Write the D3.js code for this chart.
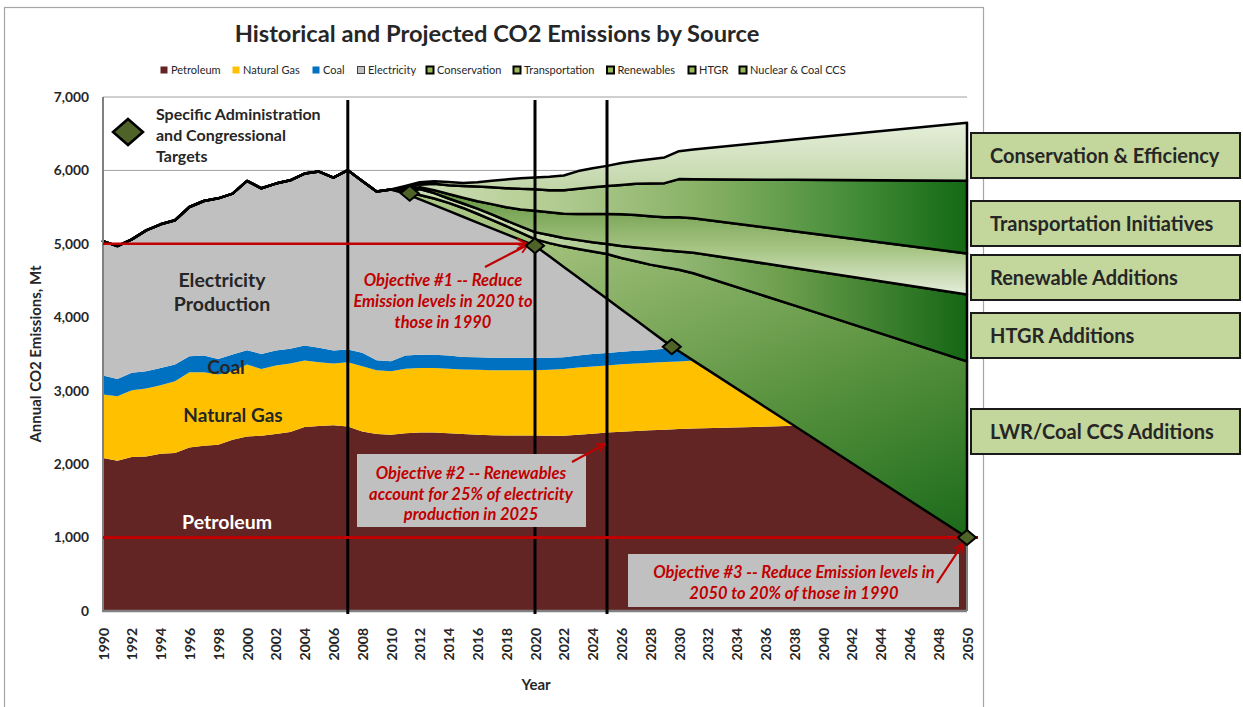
<!DOCTYPE html>
<html>
<head>
<meta charset="utf-8">
<script src="https://cdn.jsdelivr.net/npm/d3@7"></script>
<style>
  body { margin: 0; background: #fff; }
  svg text { font-family: Lato, "Open Sans", sans-serif; fill: #262626; }
</style>
</head>
<body>
<div id="chart"></div>
<script>
// Years (historical every year, then projection points)
var years = [1990,1991,1992,1993,1994,1995,1996,1997,1998,1999,
             2000,2001,2002,2003,2004,2005,2006,2007,2008,2009,
             2010,2011,2012,2013,2014,2015,2016,2017,2018,2019,
             2020,2021,2022,2023,2024,2025,2026,2027,2028,2029,
             2030,2031,2038,2050];

// Mt CO2 by source (stacked, bottom to top)
var petroleum = [2083,2046,2097,2105,2142,2151,2228,2251,2265,2333,
                 2378,2387,2410,2438,2506,2520,2528,2514,2446,2410,
                 2401,2420,2430,2430,2420,2410,2400,2395,2390,2390,
                 2390,2385,2385,2400,2415,2430,2440,2450,2460,2470,
                 2480,2485,2522,1000];
var naturalGas = [864,878,908,924,932,977,1023,1000,955,932,
                  978,910,932,932,905,868,842,874,887,869,
                  864,880,880,880,880,880,885,885,890,890,
                  890,900,910,915,915,915,920,920,920,920,
                  918,925,0,0];
var coal = [259,237,238,236,237,228,219,228,213,227,
            195,204,205,200,204,196,177,173,183,136,
            136,180,180,180,180,170,170,170,170,170,
            170,165,160,165,170,170,170,175,175,180,
            139,0,0,0];
var electricity = [1832,1809,1818,1919,1955,1965,2032,2105,2187,2192,
                   2306,2256,2274,2296,2342,2401,2356,2442,2341,2297,
                   2339,2204,2115,2037,1968,1909,1835,1761,1683,1604,
                   1525,1380,1231,1061,896,737,577,417,262,102,
                   0,0,0,0];
var nuclearCcs = [0,0,0,0,0,0,0,0,0,0,
                  0,0,0,0,0,0,0,0,0,0,
                  0,20,60,90,110,120,120,115,110,100,
                  90,180,280,390,500,610,700,800,900,1010,
                  1110,1190,1640,2400];
var htgr = [0,0,0,0,0,0,0,0,0,0,
            0,0,0,0,0,0,0,0,0,0,
            0,20,80,75,60,60,70,75,75,85,
            95,110,115,120,125,135,165,190,215,230,
            250,280,510,910];
var renewables = [0,0,0,0,0,0,0,0,0,0,
                  0,0,0,0,0,0,0,0,0,0,
                  0,15,25,40,60,80,100,140,180,230,
                  290,310,330,355,385,410,430,440,445,450,
                  465,470,500,560];
var transportation = [0,0,0,0,0,0,0,0,0,0,
                      0,0,0,0,0,0,0,0,0,0,
                      0,25,40,85,120,160,200,230,260,280,
                      295,300,320,345,365,380,400,425,445,465,
                      520,530,700,990];
var conservation = [0,0,0,0,0,0,0,0,0,0,
                    0,0,0,0,0,0,0,0,0,0,
                    0,25,30,35,45,40,60,90,120,145,
                    160,185,200,240,260,275,300,310,330,350,
                    380,405,550,790];

// Administration / congressional targets
var targetYears = [2011.3, 2020, 2029.5, 2050];
var targetValues = [5690, 4975, 3600, 1000];

var milestoneYears = [2007, 2020, 2025];
var yTicks = [0,1000,2000,3000,4000,5000,6000,7000];
var xTicks = [1990,1992,1994,1996,1998,2000,2002,2004,2006,2008,2010,2012,2014,2016,2018,2020,
              2022,2024,2026,2028,2030,2032,2034,2036,2038,2040,2042,2044,2046,2048,2050];

var keys = ["Petroleum","Natural Gas","Coal","Electricity","Nuclear & Coal CCS","HTGR","Renewables","Transportation","Conservation"];
var legendOrder = ["Petroleum","Natural Gas","Coal","Electricity","Conservation","Transportation","Renewables","HTGR","Nuclear & Coal CCS"];
var wedgeLabels = ["Conservation & Efficiency","Transportation Initiatives","Renewable Additions","HTGR Additions","LWR/Coal CCS Additions"];

var table = years.map(function(yr, i) {
  return {
    year: yr,
    "Petroleum": petroleum[i], "Natural Gas": naturalGas[i], "Coal": coal[i], "Electricity": electricity[i],
    "Nuclear & Coal CCS": nuclearCcs[i], "HTGR": htgr[i], "Renewables": renewables[i],
    "Transportation": transportation[i], "Conservation": conservation[i]
  };
});

var W = 1243, H = 707;
var svg = d3.select("#chart").append("svg").attr("width", W).attr("height", H);

var x = d3.scaleLinear().domain([1990, 2050]).range([103, 967]);
var y = d3.scaleLinear().domain([0, 7000]).range([611, 97]);

// chart area border
svg.append("rect").attr("x", 4.5).attr("y", 7.5).attr("width", 979).attr("height", 710)
  .attr("fill", "#fff").attr("stroke", "#a6a6a6").attr("stroke-width", 1.2);

// gradients
var defs = svg.append("defs");
function grad(id, x1, y1, x2, y2, stops) {
  var g = defs.append("linearGradient").attr("id", id)
    .attr("x1", x1).attr("y1", y1).attr("x2", x2).attr("y2", y2);
  stops.forEach(function(s) { g.append("stop").attr("offset", s[0]).attr("stop-color", s[1]); });
}
grad("gCons", 0, 0, 0, 1, [[0, "#e6efdb"], [1, "#a0bf7b"]]);
grad("gTrans", 0, 0, 1, 0, [[0, "#bcd29c"], [0.22, "#e2ebd6"], [0.5, "#b7cf96"], [0.7, "#86b064"], [0.88, "#3f8a35"], [1, "#146814"]]);
grad("gRen", 0, 0, 0, 1, [[0, "#4f8a36"], [0.3, "#76a353"], [0.65, "#a9c686"], [1, "#e6eedb"]]);
grad("gHtgr", 0, 0, 1, 0, [[0, "#dfe9d1"], [0.5, "#c3d8a7"], [0.78, "#6fa04f"], [1, "#156715"]]);
grad("gLwr", 0, 0, 1, 1, [[0, "#bad299"], [0.35, "#a3c17c"], [0.7, "#5a933f"], [1, "#1a6a1a"]]);

var fills = {
  "Petroleum": "#632523", "Natural Gas": "#ffc000", "Coal": "#0070c0", "Electricity": "#c0c0c0",
  "Nuclear & Coal CCS": "url(#gLwr)", "HTGR": "url(#gHtgr)", "Renewables": "url(#gRen)",
  "Transportation": "url(#gTrans)", "Conservation": "url(#gCons)"
};
var wedge = { "Nuclear & Coal CCS": 1, "HTGR": 1, "Renewables": 1, "Transportation": 1, "Conservation": 1 };

// gridlines
svg.append("g").selectAll("line").data(yTicks.filter(function(d) { return d > 0; })).enter().append("line")
  .attr("x1", x(1990)).attr("x2", x(2050))
  .attr("y1", function(d) { return y(d); }).attr("y2", function(d) { return y(d); })
  .attr("stroke", "#a0a0a0").attr("stroke-width", 1);

var series = d3.stack().keys(keys)(table);
var area = d3.area()
  .x(function(d) { return x(d.data.year); })
  .y0(function(d) { return y(d[0]); })
  .y1(function(d) { return y(d[1]); });

svg.append("g").selectAll("path").data(series).enter().append("path")
  .attr("d", area)
  .attr("fill", function(d) { return fills[d.key]; })
  .attr("stroke", function(d) { return wedge[d.key] ? "#000" : "none"; })
  .attr("stroke-width", 2.5)
  .attr("stroke-linejoin", "round");

// total line
var top = series[series.length - 1];
svg.append("path").datum(top)
  .attr("fill", "none").attr("stroke", "#000").attr("stroke-width", 3.5).attr("stroke-linejoin", "round")
  .attr("d", d3.line().x(function(d) { return x(d.data.year); }).y(function(d) { return y(d[1]); }));

// axes frame
svg.append("line").attr("x1", x(1990)).attr("x2", x(1990)).attr("y1", y(7000)).attr("y2", y(0))
  .attr("stroke", "#808080").attr("stroke-width", 2);
svg.append("line").attr("x1", x(1990) - 1).attr("x2", x(2050)).attr("y1", y(0)).attr("y2", y(0))
  .attr("stroke", "#808080").attr("stroke-width", 2.5);
svg.append("line").attr("x1", x(2050)).attr("x2", x(2050)).attr("y1", y(1000)).attr("y2", y(0))
  .attr("stroke", "#808080").attr("stroke-width", 2);

// milestone verticals
svg.append("g").selectAll("line").data(milestoneYears).enter().append("line")
  .attr("x1", function(d) { return x(d); }).attr("x2", function(d) { return x(d); })
  .attr("y1", 100).attr("y2", 614)
  .attr("stroke", "#000").attr("stroke-width", 3);

// red arrow marker
defs.append("marker").attr("id", "arr").attr("viewBox", "0 0 10 10").attr("refX", 9).attr("refY", 5)
  .attr("markerWidth", 5).attr("markerHeight", 5).attr("orient", "auto-start-reverse")
  .attr("markerUnits", "strokeWidth")
  .append("path").attr("d", "M1,1 L9,5 L1,9").attr("fill", "none").attr("stroke", "#c00000").attr("stroke-width", 1.6);

var red = "#c00000";
// objective #1 reference line (1990 level)
svg.append("line").attr("x1", x(1990)).attr("x2", x(targetYears[1]) - 8)
  .attr("y1", y(5000)).attr("y2", y(5000))
  .attr("stroke", red).attr("stroke-width", 2.5).attr("marker-end", "url(#arr)");
// objective #3 level (20% of 1990)
svg.append("line").attr("x1", x(1990)).attr("x2", x(2050) + 11)
  .attr("y1", y(targetValues[3])).attr("y2", y(targetValues[3]))
  .attr("stroke", red).attr("stroke-width", 3);

// annotation boxes
svg.append("rect").attr("x", 357).attr("y", 454).attr("width", 229).attr("height", 73).attr("fill", "#c0c0c0");
svg.append("rect").attr("x", 628).attr("y", 554).attr("width", 331).attr("height", 53).attr("fill", "#c0c0c0");

function arrow(x1, y1, x2, y2) {
  svg.append("line").attr("x1", x1).attr("y1", y1).attr("x2", x2).attr("y2", y2)
    .attr("stroke", red).attr("stroke-width", 2.2).attr("marker-end", "url(#arr)");
}
arrow(485, 267, x(targetYears[1]) - 7, y(targetValues[1]) - 1);
arrow(572, 462, x(2025) - 2, 444);
arrow(937, 583, x(targetYears[3]) - 4, y(targetValues[3]) + 6);

function lines(txt, cx, y0, lh, style) {
  var t = svg.append("text").attr("text-anchor", "middle");
  txt.forEach(function(s, i) {
    t.append("tspan").attr("x", cx).attr("y", y0 + i * lh).text(s);
  });
  for (var k in style) t.style(k, style[k]);
  return t;
}
var objStyle = { "font-size": "16.5px", "font-weight": "bold", "font-style": "italic", "fill": red };
lines(["Objective #1 -- Reduce", "Emission levels in 2020 to", "those in 1990"], 443, 286, 21, objStyle);
lines(["Objective #2 -- Renewables", "account for 25% of electricity", "production in 2025"], 471, 479, 20.5, objStyle);
lines(["Objective #3 -- Reduce Emission levels in", "2050 to 20% of those in 1990"], 794, 577.5, 21.5, objStyle);

// target diamonds
function diamond(w, h) { return "M0," + (-h) + "L" + w + ",0L0," + h + "L" + (-w) + ",0Z"; }
svg.append("g").selectAll("path").data(targetYears).enter().append("path")
  .attr("d", diamond(9, 7.5))
  .attr("transform", function(d, i) { return "translate(" + x(d) + "," + y(targetValues[i]) + ")"; })
  .attr("fill", "#4f6228").attr("stroke", "#000").attr("stroke-width", 2);

// area labels
var lblStyle = { "font-size": "19.5px", "font-weight": "bold" };
lines(["Electricity", "Production"], 222, 287, 24, lblStyle);
lines(["Coal"], 226, 374, 0, { "font-size": "19px", "font-weight": "bold" });
lines(["Natural Gas"], 233, 422, 0, { "font-size": "19px", "font-weight": "bold" });
lines(["Petroleum"], 227, 529, 0, lblStyle).style("fill", "#fff");

// in-plot legend for targets
svg.append("path").attr("d", diamond(15, 13)).attr("transform", "translate(128,132)")
  .attr("fill", "#4f6228").attr("stroke", "#000").attr("stroke-width", 2.5);
var tl = svg.append("text").style("font-size", "16px").style("font-weight", "bold");
["Specific Administration", "and Congressional", "Targets"].forEach(function(s, i) {
  tl.append("tspan").attr("x", 156).attr("y", 119.5 + i * 21).text(s);
});

// axes
var yAxis = svg.append("g").attr("transform", "translate(" + x(1990) + ",0)")
  .call(d3.axisLeft(y).tickValues(yTicks).tickSize(0).tickPadding(14).tickFormat(d3.format(",")));
yAxis.select(".domain").remove();
yAxis.selectAll("text").style("font-size", "13.8px").style("font-weight", "bold").style("font-family", "Lato, sans-serif").attr("fill", "#262626");

var xAxis = svg.append("g").attr("transform", "translate(0," + y(0) + ")")
  .call(d3.axisBottom(x).tickValues(xTicks).tickSize(0).tickFormat(d3.format("d")));
xAxis.select(".domain").remove();
xAxis.selectAll("text")
  .attr("transform", "rotate(-90)").attr("text-anchor", "end")
  .attr("x", -17).attr("y", 0).attr("dy", "0.36em")
  .style("font-size", "14px").style("font-weight", "bold").style("font-family", "Lato, sans-serif").attr("fill", "#262626");

svg.append("text").attr("x", 536).attr("y", 690).attr("text-anchor", "middle")
  .style("font-size", "15px").style("font-weight", "bold").text("Year");
svg.append("text").attr("transform", "translate(41,354) rotate(-90)").attr("text-anchor", "middle")
  .style("font-size", "15px").style("font-weight", "bold").text("Annual CO2 Emissions, Mt");

// title
svg.append("text").attr("x", 497).attr("y", 42).attr("text-anchor", "middle")
  .style("font-size", "23.7px").style("font-weight", "bold")
  .text("Historical and Projected CO2 Emissions by Source");

// legend
var legendX = [164, 236, 316, 361, 430, 517, 610.5, 692, 743];
var legendFill = { "Petroleum": "#632523", "Natural Gas": "#ffc000", "Coal": "#0070c0", "Electricity": "#c0c0c0" };
var lg = svg.append("g").selectAll("g").data(legendOrder).enter().append("g")
  .attr("transform", function(d, i) { return "translate(" + legendX[i] + ",70)"; });
lg.append("rect").attr("x", -3.5).attr("y", -3.5).attr("width", 7).attr("height", 7)
  .attr("fill", function(d) { return legendFill[d] || "#9bbb59"; })
  .attr("stroke", function(d) { return legendFill[d] ? (d === "Electricity" ? "#404040" : "none") : "#000"; })
  .attr("stroke-width", function(d) { return d === "Electricity" ? 1 : 2; });
lg.append("text").attr("x", 7).attr("dy", "0.35em").style("font-size", "11px").text(function(d) { return d; });

// wedge label boxes at right
var boxY = [133, 201, 255, 313, 409];
var bx = svg.append("g").selectAll("g").data(wedgeLabels).enter().append("g")
  .attr("transform", function(d, i) { return "translate(971," + boxY[i] + ")"; });
bx.append("rect").attr("width", 269).attr("height", 45).attr("fill", "#c3d69b")
  .attr("stroke", "#1a1a1a").attr("stroke-width", 2);
bx.append("text").attr("x", 19).attr("y", 23).attr("dy", "0.35em")
  .style("font-size", "20px").style("font-weight", "bold").text(function(d) { return d; });
</script>
</body>
</html>
